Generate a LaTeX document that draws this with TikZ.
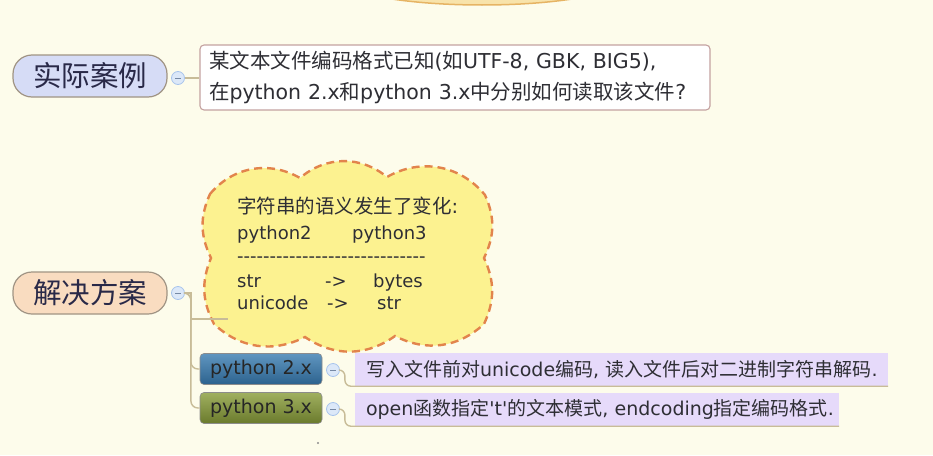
\documentclass[tikz,border=0pt]{standalone}
\usepackage{fontspec}
\setmainfont{DejaVu Sans}[Ligatures=TeXOff]
\newfontfamily\cjk{Noto Sans CJK SC}
\newcommand\zh[1]{{\cjk #1}}
\definecolor{bg}{HTML}{FDFCEB}
\definecolor{topfill}{HTML}{F8E2A8}
\definecolor{topdraw}{HTML}{E6B464}
\definecolor{nodeA}{HTML}{D6DCF6}
\definecolor{nodeB}{HTML}{F9DCC0}
\definecolor{nodeedge}{HTML}{A09484}
\definecolor{colfill}{HTML}{DCE8F8}
\definecolor{coldraw}{HTML}{A8C4EC}
\definecolor{qedge}{HTML}{C4A2A0}
\definecolor{cloudfill}{HTML}{FCF290}
\definecolor{clouddash}{HTML}{E2844C}
\definecolor{branchc}{HTML}{C8BC98}
\definecolor{pyAtop}{HTML}{6096C0}
\definecolor{pyAbot}{HTML}{2C628E}
\definecolor{pyBtop}{HTML}{A0B060}
\definecolor{pyBbot}{HTML}{6A7A2C}
\definecolor{lab}{HTML}{E6DAFA}
\definecolor{ink}{HTML}{2E2E34}
\tikzset{
  x=1pt, y=-1pt,
  mainnode/.style={draw=nodeedge, line width=1.2pt, rounded corners=19pt,
    minimum width=154pt, minimum height=42pt, inner sep=0pt,
    font=\cjk\fontsize{28.5}{30}\selectfont, text=ink!90!blue},
  collapse/.style={circle, draw=coldraw, fill=colfill, line width=0.8pt,
    minimum size=13pt, inner sep=0pt,
    path picture={\draw[coldraw!70!black, line width=0.6pt]
      ([xshift=-3pt]path picture bounding box.center) --
      ([xshift=3pt]path picture bounding box.center);}},
  branch/.style={draw=branchc, line width=1.4pt},
  pybox/.style={draw=black!45, line width=0.6pt, rounded corners=4pt,
    minimum width=122pt, minimum height=31pt, inner sep=0pt,
    font=\fontsize{19}{22}\selectfont, text=black!85},
  labbox/.style={fill=lab, draw=none, minimum height=33pt, inner xsep=11pt,
    inner ysep=0pt, align=left, font=\fontsize{19}{22}\selectfont, text=ink},
  cloudline/.style={draw=clouddash, fill=cloudfill, line width=2.4pt,
    dash pattern=on 8pt off 5pt},
  ctext/.style={anchor=base west, inner sep=0pt, text=ink,
    font=\fontsize{18}{22}\selectfont}
}
\begin{document}
\begin{tikzpicture}
\path[use as bounding box, fill=bg] (0,0) rectangle (933,455);
\begin{scope}
  \clip (0,0) rectangle (933,455);
  \fill[top color=topfill!60, bottom color=topfill, draw=topdraw, line width=1.5pt]
    (482,-25) ellipse [x radius=150, y radius=30];
\end{scope}

% top branch
\node[mainnode, fill=nodeA] (case) at (90,76) {实际案例};
\node[collapse] (c1) at (178,78) {};
\node[draw=qedge, line width=1.1pt, fill=white, rounded corners=4pt,
  minimum width=510pt, minimum height=65pt, inner xsep=9pt, align=left,
  text width=492pt, font=\fontsize{20.5}{30.5}\selectfont, text=ink]
  (q) at (455,77.5)
  {\zh{某文本文件编码格式已知}(\zh{如}UTF-8, GBK, BIG5),\\
   \zh{在}python 2.x\zh{和}python 3.x\zh{中分别如何读取该文件}?};
\draw[branch] (c1.east) -- (c1.east -| q.west);

% bottom branch
\node[mainnode, fill=nodeB] (sol) at (90,293) {解决方案};
\node[collapse] (c2) at (178,293) {};

% cloud
\draw[cloudline] (210,194) to[bend left=40] (300,178) to[bend left=40] (387,177)
  to[bend left=40] (485,195) to[bend left=25] (484,258) to[bend left=25] (484,324)
  to[bend left=35] (395,336) to[bend left=35] (305,337) to[bend left=35] (214,324)
  to[bend left=25] (211,258) to[bend left=25] cycle;
\coordinate (cl) at (228,319);
\node[ctext] (t1) at (237,213) {\fontsize{19.5}{22}\selectfont\zh{字符串的语义发生了变化}:};
\node[ctext] (t2a) at (237,239) {python2};
\node[ctext] (t2b) at (352,239) {python3};
\node[ctext] (t3) at (237,262) {-----------------------------};
\node[ctext] (t4a) at (237,287) {str};
\node[ctext] (t4b) at (325,287) {->};
\node[ctext] (t4c) at (373,287) {bytes};
\node[ctext] (t5a) at (237,309) {unicode};
\node[ctext] (t5b) at (327,309) {->};
\node[ctext] (t5c) at (377,309) {str};

\node[pybox, top color=pyAtop, bottom color=pyAbot] (py2) at (261,369) {python 2.x};
\node[pybox, top color=pyBtop, bottom color=pyBbot] (py3) at (261,408) {python 3.x};

\draw[branch] (c2.east) -- ++(6,0) |- (cl);
\draw[branch, rounded corners=7pt] (c2.east) -- ++(6,0) |- (py2.west);
\draw[branch, rounded corners=7pt] (c2.east) -- ++(6,0) |- (py3.west);

\node[collapse] (c3) at (333,370) {};
\node[collapse] (c4) at (333,409) {};

\node[labbox, minimum width=533pt, text width=511pt] (l2) at (621.5,369.5)
  {\mbox{\zh{写入文件前对}unicode\zh{编码}, \zh{读入文件后对二进制字符串解码}.}};
\node[labbox, minimum width=484pt, text width=462pt] (l3) at (597,409.5)
  {\mbox{open\zh{函数指定}'t'\zh{的文本模式}, endcoding\zh{指定编码格式}.}};

\draw[branch, rounded corners=6pt] (c3.east) -- ++(5,0) |- (l2.south east);
\draw[branch, rounded corners=6pt] (c4.east) -- ++(5,0) |- (l3.south east);

\fill[black!45] (318,443) circle (1.1);
\end{tikzpicture}
\end{document}
